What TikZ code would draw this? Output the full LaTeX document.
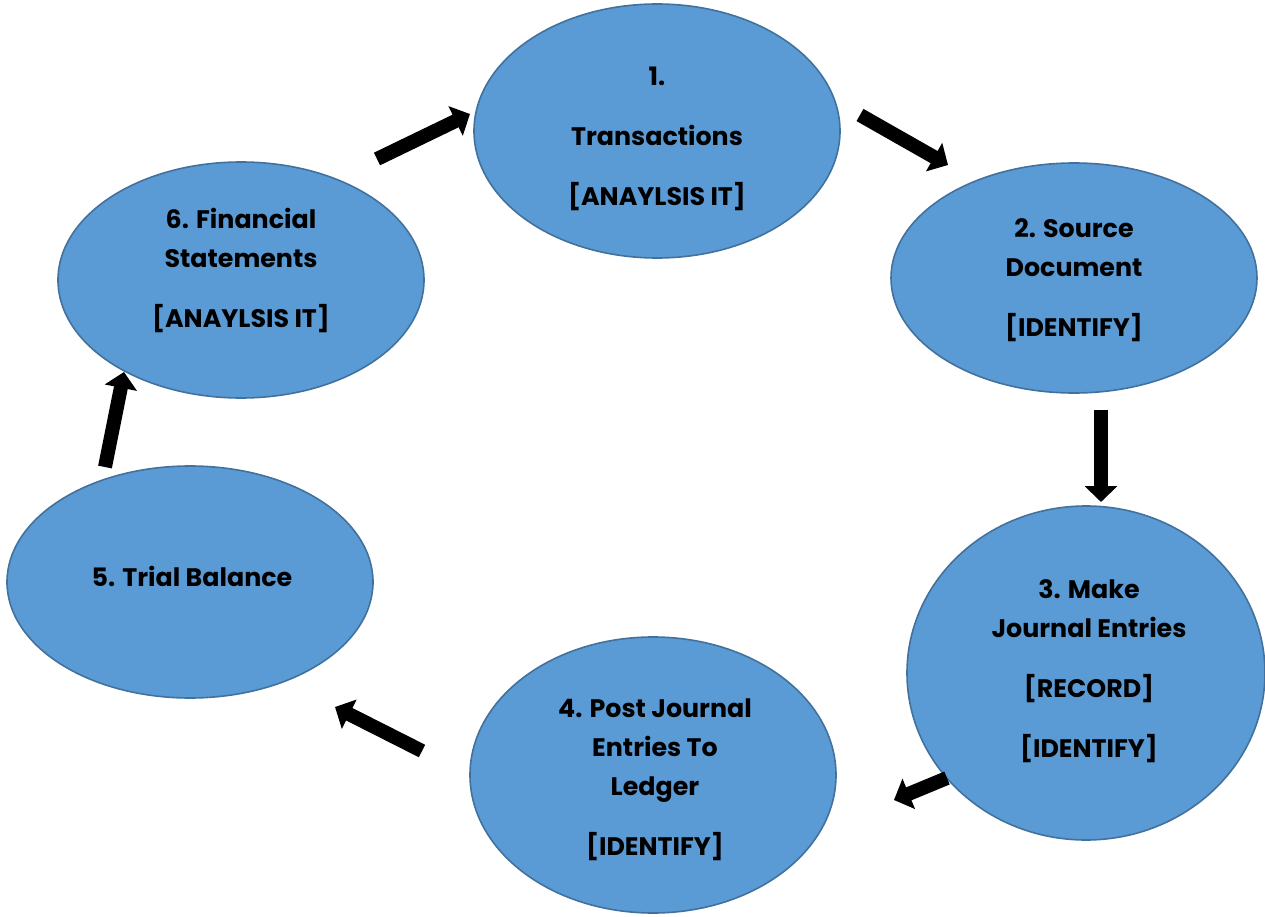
\documentclass[tikz,border=0pt]{standalone}
\usepackage{fontspec}
\setmainfont{Poppins}
\usetikzlibrary{shapes.geometric,arrows.meta}
\definecolor{fillblue}{HTML}{5B9BD5}
\definecolor{edgeblue}{HTML}{41719C}
\tikzset{
  oval/.style={ellipse, draw=edgeblue, fill=fillblue, line width=1.2pt, inner sep=0pt},
  txt/.style={align=center, font=\fontsize{19}{29.25}\selectfont\bfseries, inner sep=0pt},
  blockarrow/.style={line width=10.5pt, draw=black, -{Triangle[width=24pt,length=12pt]}}
}
\begin{document}
\begin{tikzpicture}[x=0.75pt,y=-0.75pt]
\useasboundingbox (0,0) rectangle (1265,917);
% ellipses
\node[oval, minimum width=366*0.75pt, minimum height=254*0.75pt] (e1) at (657,131) {};
\node[oval, minimum width=366*0.75pt, minimum height=230*0.75pt] (e2) at (1074,278) {};
\node[oval, minimum width=358*0.75pt, minimum height=334*0.75pt] (e3) at (1086,673) {};
\node[oval, minimum width=366*0.75pt, minimum height=276*0.75pt] (e4) at (653,775) {};
\node[oval, minimum width=366*0.75pt, minimum height=232*0.75pt] (e5) at (190,582) {};
\node[oval, minimum width=366*0.75pt, minimum height=236*0.75pt] (e6) at (241,280) {};
% texts
\node[txt] (t1) at (657,138.5) {1.\\[15.75pt]Transactions\\[15.75pt][ANAYLSIS IT]};
\node[txt] (t2) at (1074,280.5) {2. Source\\Document\\[15.75pt][IDENTIFY]};
\node[txt] (t3) at (1089,671.5) {3. Make\\Journal Entries\\[15.75pt][RECORD]\\[15.75pt][IDENTIFY]};
\node[txt] (t4) at (655,779.5) {4. Post Journal\\Entries To\\Ledger\\[15.75pt][IDENTIFY]};
\node[txt] (t5) at (192,576) {5. Trial Balance};
\node[txt] (t6) at (241,270) {6. Financial\\Statements\\[15.75pt][ANAYLSIS IT]};
% arrow end points
\coordinate (a1s) at (377,159); \coordinate (a1e) at (470,114);
\coordinate (a2s) at (860,115); \coordinate (a2e) at (948,165);
\coordinate (a3s) at (1101,410); \coordinate (a3e) at (1101,502);
\coordinate (a4s) at (947,778); \coordinate (a4e) at (894,800);
\coordinate (a5s) at (422,751); \coordinate (a5e) at (335,707);
\coordinate (a6s) at (105,467); \coordinate (a6e) at (124,372);
\draw[blockarrow] (a1s) -- (a1e);
\draw[blockarrow] (a2s) -- (a2e);
\draw[blockarrow] (a3s) -- (a3e);
\draw[blockarrow] (a4s) -- (a4e);
\draw[blockarrow] (a5s) -- (a5e);
\draw[blockarrow] (a6s) -- (a6e);
\end{tikzpicture}
\end{document}
